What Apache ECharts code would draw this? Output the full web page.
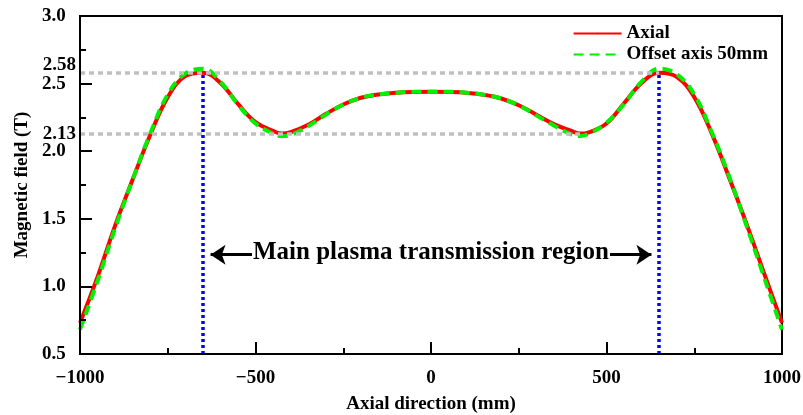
<!DOCTYPE html>
<html>
<head>
<meta charset="utf-8">
<script src="https://cdn.jsdelivr.net/npm/echarts@6/dist/echarts.min.js"></script>
<style>
  html, body { margin: 0; padding: 0; background: #fff; }
  #chart { width: 803px; height: 415px; }
</style>
</head>
<body>
<div id="chart"></div>
<script>
// Axial positions (mm) at which the field was sampled
const positions = [-1000, -950, -900, -850, -800, -750, -700, -650, -600, -550, -500, -450, -425, -400,
  -350, -300, -250, -200, -150, -100, -50, 0, 50, 100, 150, 200, 250, 300, 350, 400, 425, 450,
  500, 550, 600, 650, 700, 750, 800, 850, 900, 950, 1000];

// Magnetic field on the axis (T)
const axialField = [0.73, 1.07, 1.45, 1.79, 2.12, 2.40, 2.555, 2.58, 2.505, 2.35, 2.215, 2.15, 2.13, 2.14,
  2.195, 2.275, 2.345, 2.395, 2.42, 2.432, 2.438, 2.44, 2.438, 2.432, 2.418, 2.39, 2.34, 2.27, 2.20, 2.15, 2.13, 2.14,
  2.205, 2.355, 2.505, 2.58, 2.55, 2.40, 2.13, 1.80, 1.455, 1.09, 0.73];

// Magnetic field 50 mm off the axis (T)
const offsetField = [0.68, 1.04, 1.43, 1.79, 2.13, 2.42, 2.575, 2.61, 2.515, 2.345, 2.205, 2.13, 2.112, 2.12,
  2.185, 2.27, 2.345, 2.395, 2.42, 2.433, 2.44, 2.44, 2.44, 2.433, 2.418, 2.39, 2.34, 2.265, 2.19, 2.125, 2.112, 2.13,
  2.21, 2.35, 2.515, 2.61, 2.57, 2.42, 2.14, 1.81, 1.44, 1.06, 0.68];

// Axis ranges and tick steps: [min, max, interval]
const xRange = [-1000, 1000, 500];
const yRange = [0.5, 3.0, 0.5];

// Reference levels: peak field and valley field, with their positions
const peakField = 2.58;
const valleyField = 2.13;
const peakPos = 650;
const valleyPos = 425;

// Extent of the main transmission region annotation
const regionLabel = 'Main plasma transmission region';
const regionLevel = 1.235;
const regionTextHalf = 510;
const regionArrowTip = 628;

const serif = '"Times New Roman", "Liberation Serif", serif';
const boldText = { fontFamily: serif, fontWeight: 'bold', fontSize: 19, color: '#000' };

function pairs(xs, ys) {
  return xs.map((x, i) => [x, ys[i]]);
}

function black(w) {
  return { color: '#000', width: w, type: 'solid' };
}

// shared frame styling: black axis lines with inward major and minor ticks
function axisFrame() {
  return {
    z: 10,
    axisLine: { show: true, onZero: false, lineStyle: black(2) },
    axisTick: { show: true, inside: true, length: 12, interval: 0, lineStyle: black(2) },
    minorTick: { show: true, splitNumber: 2, length: 6, lineStyle: black(2) },
    splitLine: { show: false }
  };
}

const blueDots = { color: '#0000ff', width: 3.5, type: [3, 3] };
const arrowLine = { color: '#000', width: 3, type: 'solid' };

const chart = echarts.init(document.getElementById('chart'), null, { renderer: 'canvas' });

chart.setOption({
  animation: false,
  backgroundColor: '#fff',
  title: {
    text: regionLabel,
    left: 253,
    top: 240,
    padding: 0,
    textStyle: Object.assign({}, boldText, { fontSize: 25, lineHeight: 26 })
  },
  grid: {
    left: 80, right: 21, top: 16, bottom: 61,
    outerBoundsMode: 'none',
    show: true, borderColor: '#000', borderWidth: 2
  },
  legend: {
    data: ['Axial', 'Offset axis 50mm'],
    orient: 'vertical',
    right: 30,
    top: 19,
    itemWidth: 48,
    itemHeight: 2,
    itemGap: 2,
    textStyle: Object.assign({ lineHeight: 19 }, boldText)
  },
  xAxis: Object.assign({
    type: 'value',
    min: xRange[0], max: xRange[1], interval: xRange[2],
    name: 'Axial direction (mm)',
    nameLocation: 'middle',
    nameGap: 41,
    nameTextStyle: boldText,
    axisLabel: Object.assign({
      margin: 15,
      formatter: v => String(v).replace('-', '\u2212')
    }, boldText)
  }, axisFrame()),
  yAxis: Object.assign({
    type: 'value',
    min: yRange[0], max: yRange[1], interval: yRange[2],
    name: 'Magnetic field (T)',
    nameLocation: 'middle',
    nameGap: 48,
    nameTextStyle: boldText,
    axisLabel: Object.assign({
      align: 'left',
      margin: 38,
      formatter: v => v.toFixed(1)
    }, boldText)
  }, axisFrame()),
  series: [
    {
      // grey peak/valley levels (labelled on the field axis), blue peak markers,
      // and the arrows bounding the transmission region
      type: 'line', name: 'levels', data: [], z: 1, silent: true,
      markLine: {
        silent: true, symbol: 'none', animation: false,
        label: Object.assign({ show: true, position: 'start', distance: 4 }, boldText),
        lineStyle: { color: '#c0c0c0', width: 3.5, type: [5, 4] },
        data: [
          [{ coord: [xRange[0], peakField], label: { formatter: peakField.toFixed(2), offset: [0, -8] } },
           { coord: [peakPos, peakField] }],
          [{ coord: [xRange[0], valleyField], label: { formatter: valleyField.toFixed(2) } },
           { coord: [valleyPos, valleyField] }],
          [{ coord: [-peakPos, yRange[0]], lineStyle: blueDots, label: { show: false } },
           { coord: [-peakPos, peakField] }],
          [{ coord: [peakPos, yRange[0]], lineStyle: blueDots, label: { show: false } },
           { coord: [peakPos, peakField] }],
          [{ coord: [-regionTextHalf, regionLevel], lineStyle: arrowLine, label: { show: false }, symbol: 'none' },
           { coord: [-regionArrowTip, regionLevel], symbol: 'arrow', symbolSize: 15 }],
          [{ coord: [regionTextHalf, regionLevel], lineStyle: arrowLine, label: { show: false }, symbol: 'none' },
           { coord: [regionArrowTip, regionLevel], symbol: 'arrow', symbolSize: 15 }]
        ]
      }
    },
    {
      type: 'line', name: 'Axial', z: 3,
      data: pairs(positions, axialField),
      smooth: 0.4, symbol: 'none',
      lineStyle: { color: '#ff0000', width: 4 },
      itemStyle: { color: '#ff0000' }
    },
    {
      type: 'line', name: 'Offset axis 50mm', z: 4,
      data: pairs(positions, offsetField),
      smooth: 0.4, symbol: 'none',
      lineStyle: { color: '#00f000', width: 4, type: [10, 6] },
      itemStyle: { color: '#00f000' }
    }
  ]
});
</script>
</body>
</html>
